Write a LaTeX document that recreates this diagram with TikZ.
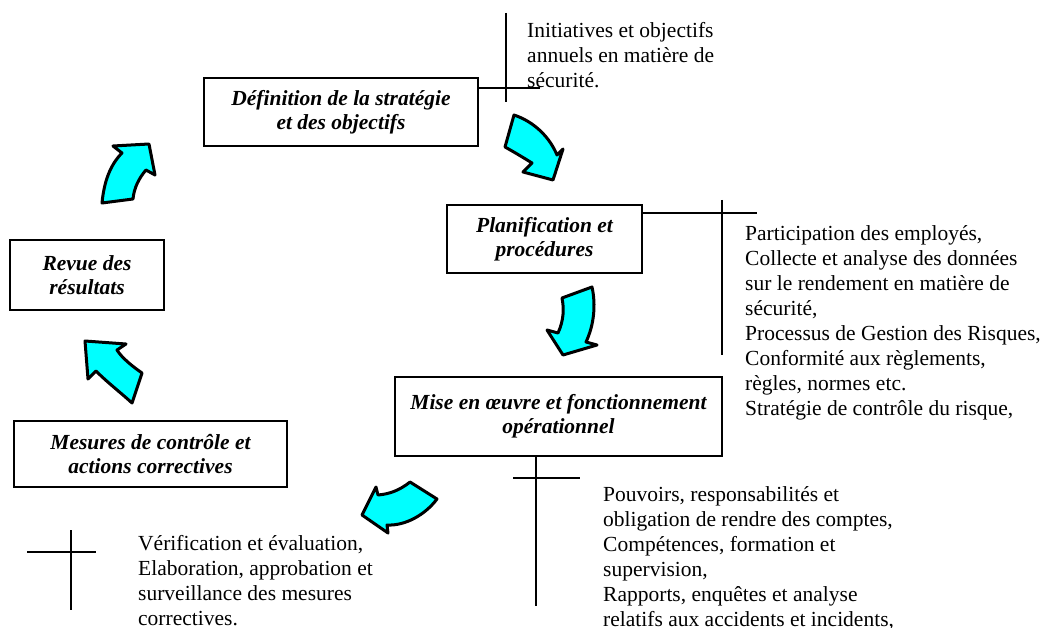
\documentclass[tikz,border=0pt]{standalone}
\usepackage{fontspec}
\setmainfont{Liberation Serif}
\definecolor{aqua}{RGB}{0,255,255}
\begin{document}
\begin{tikzpicture}[x=1pt,y=-1pt,
  stagebox/.style={draw=black,line width=1.6pt,fill=white,align=center,inner sep=2pt,
    font=\fontsize{21.5}{24}\selectfont\bfseries\itshape},
  notes/.style={anchor=base west,align=left,inner sep=0pt,
    font=\fontsize{21.5}{25}\selectfont},
  tline/.style={line width=1.6pt},
  cyclearrow/.style={fill=aqua,draw=black,line width=3pt,line join=round}]
\useasboundingbox (0,0) rectangle (1040,628);

% stage boxes
\node[stagebox,minimum width=274pt,minimum height=68pt] (b1) at (341,112)
  {Définition de la stratégie\\et des objectifs};
\node[stagebox,minimum width=195pt,minimum height=68pt] (b2) at (544.5,239)
  {Planification et\\procédures};
\node[stagebox,minimum width=154pt,minimum height=70pt] (b3) at (87,275)
  {Revue des\\résultats};
\node[stagebox,minimum width=327pt,minimum height=79pt] (b4) at (558.5,416.5)
  {Mise en œuvre et fonctionnement\\opérationnel};
\node[stagebox,minimum width=273pt,minimum height=66pt] (b5) at (150.5,454)
  {Mesures de contrôle et\\actions correctives};

% notes (anchored at the baseline of their last line)
\node[notes] (n1) at (527,88)
  {Initiatives et objectifs\\annuels en matière de\\sécurité.};
\node[notes] (n2) at (745,415)
  {Participation des employés,\\Collecte et analyse des données\\sur le rendement en matière de\\sécurité,\\Processus de Gestion des Risques,\\Conformité aux règlements,\\règles, normes etc.\\Stratégie de contrôle du risque,};
\node[notes] (n3) at (603,626)
  {Pouvoirs, responsabilités et\\obligation de rendre des comptes,\\Compétences, formation et\\supervision,\\Rapports, enquêtes et analyse\\relatifs aux accidents et incidents,};
\node[notes] (n4) at (138,625)
  {Vérification et évaluation,\\Elaboration, approbation et\\surveillance des mesures\\correctives.};

% T-shaped leaders
\coordinate (h1) at (540,88);
\coordinate (v1a) at (506,13);
\coordinate (v1b) at (506,102);
\draw[tline] (b1.east |- h1) -- (h1);
\draw[tline] (v1a) -- (v1b);

\coordinate (h2) at (757,213);
\coordinate (v2a) at (722,200);
\coordinate (v2b) at (722,355);
\draw[tline] (b2.east |- h2) -- (h2);
\draw[tline] (v2a) -- (v2b);

\coordinate (v4b) at (536,606);
\coordinate (h4a) at (513,478);
\coordinate (h4b) at (580,478);
\draw[tline] (b4.south -| v4b) -- (v4b);
\draw[tline] (h4a) -- (h4b);

\coordinate (h5a) at (27,552);
\coordinate (h5b) at (96,552);
\coordinate (v5a) at (71,530);
\coordinate (v5b) at (71,610);
\draw[tline] (h5a) -- (h5b);
\draw[tline] (v5a) -- (v5b);

% curved block arrows of the cycle
\draw[cyclearrow] (514,115) .. controls (535,122) and (550,138) .. (557,155)
  -- (563,149) -- (553,180) -- (523,172) -- (532,163)
  .. controls (524,158) and (514,152) .. (505,147) -- cycle;
\draw[cyclearrow] (592,287) .. controls (596,305) and (594,325) .. (586,342)
  -- (597,345) -- (563,355) -- (547,330) -- (558,333)
  .. controls (564,320) and (564,308) .. (562,298) -- cycle;
\draw[cyclearrow] (410,482) .. controls (400,490) and (390,494) .. (378,495)
  -- (376,487) -- (362,515) -- (388,533) -- (387,525)
  .. controls (405,526) and (425,515) .. (437,499) -- cycle;
\draw[cyclearrow] (142,373) .. controls (132,366) and (122,358) .. (117,350)
  -- (126,344) -- (85,341) -- (88,379) -- (96,371)
  .. controls (108,383) and (120,392) .. (132,403) -- cycle;
\draw[cyclearrow] (102,203) .. controls (104,182) and (110,165) .. (122,153)
  -- (113,146) -- (149,144) -- (155,175) -- (146,170)
  .. controls (139,178) and (134,188) .. (133,199) -- cycle;
\end{tikzpicture}
\end{document}
